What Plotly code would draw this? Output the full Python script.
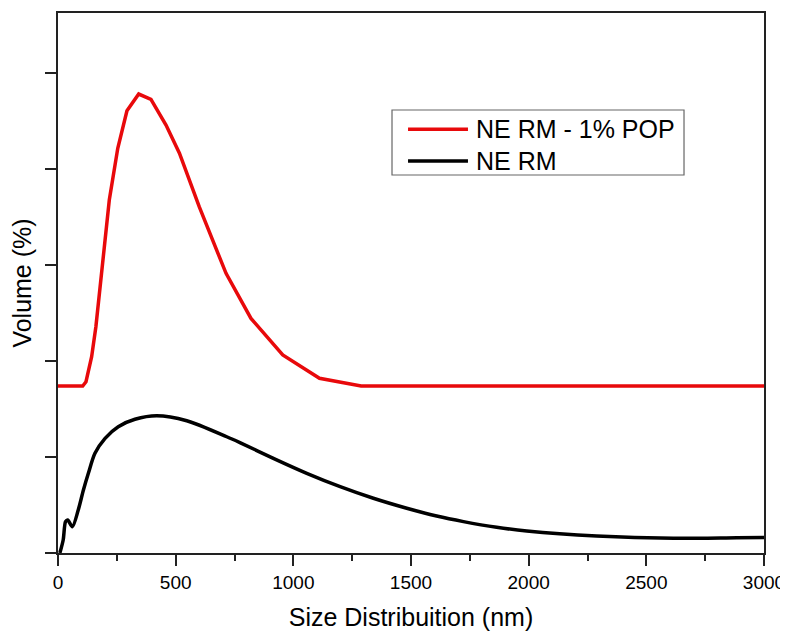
import plotly.graph_objects as go

# NE RM - 1% POP (red)
pop_size = [0, 105, 119, 143, 161, 190, 218, 254, 293, 343, 395, 459, 516, 600,
            714, 820, 955, 1111, 1288, 3000]
pop_volume = [1.74, 1.74, 1.784, 2.045, 2.357, 3.052, 3.677, 4.216, 4.607, 4.781,
              4.726, 4.458, 4.164, 3.607, 2.913, 2.444, 2.063, 1.820, 1.74, 1.74]

# NE RM (black)
rm_size = [8, 22, 32, 41, 61, 86, 108, 129, 157, 200, 256, 327, 419, 547,
           717, 773, 915, 1057, 1199, 1340, 1482, 1609, 1723, 1864, 1992, 2289,
           2615, 2884, 3000]
rm_volume = [0.0, 0.135, 0.326, 0.344, 0.274, 0.448, 0.656, 0.83, 1.039, 1.195,
             1.316, 1.393, 1.43, 1.378, 1.211, 1.150, 0.986, 0.830, 0.691,
             0.570, 0.466, 0.385, 0.327, 0.268, 0.229, 0.177, 0.153, 0.159, 0.161]

series_names = ["NE RM - 1% POP", "NE RM"]
series_colors = ["#e8090b", "black"]

font = "Liberation Sans, Arial, sans-serif"

fig = go.Figure()
fig.add_trace(go.Scatter(
    x=pop_size, y=pop_volume, mode="lines", name=series_names[0],
    line=dict(color=series_colors[0], width=3.5), showlegend=False
))
fig.add_trace(go.Scatter(
    x=rm_size, y=rm_volume, mode="lines", name=series_names[1],
    line=dict(color=series_colors[1], width=3.5, shape="spline", smoothing=0.8),
    showlegend=False
))

# legend box drawn by hand so the line samples are as long as in the original
fig.add_shape(type="rect", xref="paper", yref="paper",
              x0=0.4731, x1=0.8867, y0=0.70, y1=0.8204,
              line=dict(color="#666", width=1.2), fillcolor="white")
for name, color, ly in zip(series_names, series_colors, [0.7846, 0.7259]):
    fig.add_shape(type="line", xref="paper", yref="paper",
                  x0=0.4958, x1=0.5807, y0=ly, y1=ly,
                  line=dict(color=color, width=3.5))
    fig.add_annotation(xref="paper", yref="paper", x=0.5892, y=ly,
                       xanchor="left", yanchor="middle", text=name,
                       showarrow=False, font=dict(size=25))

# the page body has an 8px margin; keep the plot box where the original has it
fig.update_layout(
    width=788, height=623,
    margin=dict(l=50, r=32, t=5, b=78),
    paper_bgcolor="white", plot_bgcolor="white",
    font=dict(family=font, size=20, color="black"),
    showlegend=False,
)

fig.update_xaxes(
    range=[0, 3000], dtick=500, tick0=0, automargin=False,
    showgrid=False, zeroline=False,
    showline=True, linecolor="#222", linewidth=1.5, mirror=True,
    ticks="outside", ticklen=11, tickwidth=1.5, tickcolor="#222",
    minor=dict(dtick=250, ticks="outside", ticklen=6, tickwidth=1.5, tickcolor="#222"),
    tickfont=dict(size=19),
    title=dict(text="Size Distribuition (nm)", font=dict(size=25), standoff=22),
)
fig.update_yaxes(
    range=[0, 5.625], dtick=1, tick0=0, automargin=False,
    showgrid=False, zeroline=False,
    showline=True, linecolor="#222", linewidth=1.5, mirror=True,
    ticks="outside", ticklen=11, tickwidth=1.5, tickcolor="#222",
    showticklabels=False,
    title=dict(text="Volume (%)", font=dict(size=25), standoff=8),
)

fig.write_html("out.html")
